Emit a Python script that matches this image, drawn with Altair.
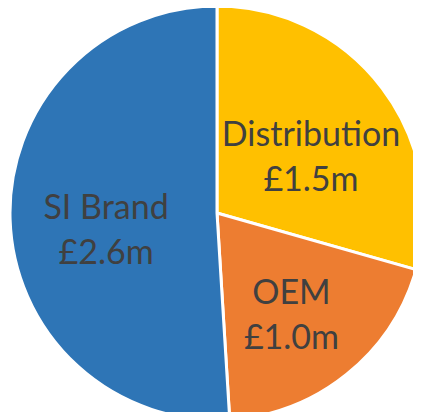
import altair as alt
import pandas as pd

segments = ["Distribution", "OEM", "SI Brand"]
values = [1.5, 1.0, 2.6]
value_labels = ["£1.5m", "£1.0m", "£2.6m"]
colors = ["#FFC000", "#ED7D31", "#2E75B6"]

df = pd.DataFrame({
    "segment": segments,
    "value": values,
    "label": [f"{s}\n{v}" for s, v in zip(segments, value_labels)],
    "idx": list(range(len(segments))),
})

base = alt.Chart(df).encode(
    theta=alt.Theta("value:Q", stack=True),
    order=alt.Order("idx:Q"),
    x=alt.value(209),
    y=alt.value(205),
)

pie = base.mark_arc(radius=207, stroke="white", strokeWidth=3).encode(
    color=alt.Color("segment:N",
                    scale=alt.Scale(domain=segments, range=colors),
                    legend=None)
)

text = base.mark_text(radius=114, fontSize=34, font="Lato", color="#404040",
                      lineBreak="\n", lineHeight=45, dy=-8, dx=3).encode(
    text="label:N"
)

chart = (pie + text).properties(
    width=405, height=404, padding=0,
    autosize=alt.AutoSizeParams(type="none"),
).configure_view(stroke=None)

chart.save("out.html", embed_options={"renderer": "svg", "actions": False})
